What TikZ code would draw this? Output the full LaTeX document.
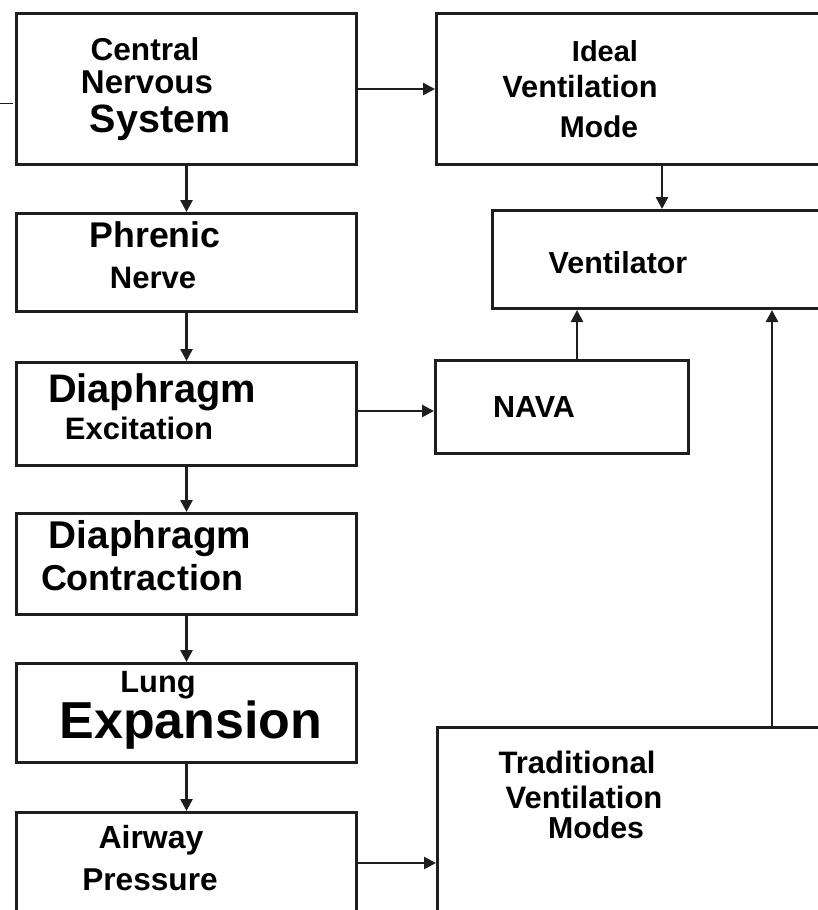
\documentclass[tikz,border=0pt]{standalone}
\usepackage{fontspec}
\setmainfont{Liberation Sans}
\usetikzlibrary{arrows.meta}
\newcommand\fz[1]{\fontsize{#1pt}{#1pt}\selectfont}
\definecolor{ink}{HTML}{1E1E1E}
\tikzset{
  box/.style={draw=ink, line width=3pt, rectangle, inner sep=0pt, anchor=north west},
  arr/.style={draw=ink, line width=2.6pt, -{Triangle[length=12pt,width=12pt]}},
  txt/.style={anchor=base, inner sep=0pt, text=black, font=\bfseries}
}
\begin{document}
\begin{tikzpicture}[x=1pt,y=-1pt]
\useasboundingbox (0,0) rectangle (818,910);
\fill[white] (0,0) rectangle (818,910);
\clip (0,0) rectangle (818,910);
% boxes
\node[box, minimum width=340pt, minimum height=151pt] (cns) at (15,12) {};
\node[box, minimum width=400pt, minimum height=151pt] (ideal) at (435,12) {};
\node[box, minimum width=350pt, minimum height=98pt] (vent) at (491,209) {};
\node[box, minimum width=340pt, minimum height=98pt] (phren) at (15,212) {};
\node[box, minimum width=340pt, minimum height=103pt] (dexc) at (15,361) {};
\node[box, minimum width=253pt, minimum height=93pt] (nava) at (434,359) {};
\node[box, minimum width=340pt, minimum height=101pt] (dcon) at (15,512) {};
\node[box, minimum width=340pt, minimum height=99pt] (lung) at (15,662) {};
\node[box, minimum width=340pt, minimum height=130pt] (air) at (15,811) {};
\node[box, minimum width=400pt, minimum height=200pt] (trad) at (436,726) {};
% connectors
\draw[arr] (cns.south) -- (phren.north);
\draw[arr] (phren.south) -- (dexc.north);
\draw[arr] (dexc.south) -- (dcon.north);
\draw[arr] (dcon.south) -- (lung.north);
\draw[arr] (lung.south) -- (air.north);
\draw[arr] (cns.east) -- (cns.east -| ideal.west);
\draw[arr] ([xshift=227pt]ideal.south west) -- ([xshift=171pt]vent.north west);
\draw[arr] ([yshift=3pt]dexc.east) -- ([yshift=3pt]dexc.east -| nava.west);
\draw[arr] ([xshift=143pt]nava.north west) -- ([xshift=86pt]vent.south west);
\draw[arr] ([yshift=-52pt]air.north east) -- ([yshift=-52pt]air.north east -| trad.west);
\draw[arr] ([xshift=336pt]trad.north west) -- ([xshift=281pt]vent.south west);
% stray mark at left edge
\coordinate (m1) at (0,103);
\coordinate (m2) at (13,103);
\draw[ink, line width=1pt] (m1) -- (m2);
% texts
\node[txt, font=\bfseries\fz{31.6}] (t1) at (145,60) {Central};
\node[txt, font=\bfseries\fz{33}] (t2) at (147,93) {Nervous};
\node[txt, font=\bfseries\fz{39.5}] (t3) at (160,132) {System};
\node[txt, font=\bfseries\fz{29}] (t4) at (605,61) {Ideal};
\node[txt, font=\bfseries\fz{30.7}] (t5) at (580,97) {Ventilation};
\node[txt, font=\bfseries\fz{30}] (t6) at (599,137) {Mode};
\node[txt, font=\bfseries\fz{30.4}] (t7) at (618,273) {Ventilator};
\node[txt, font=\bfseries\fz{35.7}] (t8) at (155,247) {Phrenic};
\node[txt, font=\bfseries\fz{31}] (t9) at (153,288) {Nerve};
\node[txt, font=\bfseries\fz{39.8}] (t10) at (152,402) {Diaphragm};
\node[txt, font=\bfseries\fz{31}] (t11) at (139,439) {Excitation};
\node[txt, font=\bfseries\fz{30.5}] (t12) at (534,417) {NAVA};
\node[txt, font=\bfseries\fz{38.7}] (t13) at (150,548) {Diaphragm};
\node[txt, font=\bfseries\fz{36}] (t14) at (142,590) {Contraction};
\node[txt, font=\bfseries\fz{30.8}] (t15) at (158,692) {Lung};
\node[txt, font=\bfseries\fz{52}] (t16) at (191,738) {Expansion};
\node[txt, font=\bfseries\fz{32}] (t17) at (151,848) {Airway};
\node[txt, font=\bfseries\fz{31.6}] (t18) at (150,890) {Pressure};
\node[txt, font=\bfseries\fz{31}] (t19) at (577,773) {Traditional};
\node[txt, font=\bfseries\fz{31}] (t20) at (584,808) {Ventilation};
\node[txt, font=\bfseries\fz{30.3}] (t21) at (596,838) {Modes};
\end{tikzpicture}
\end{document}
